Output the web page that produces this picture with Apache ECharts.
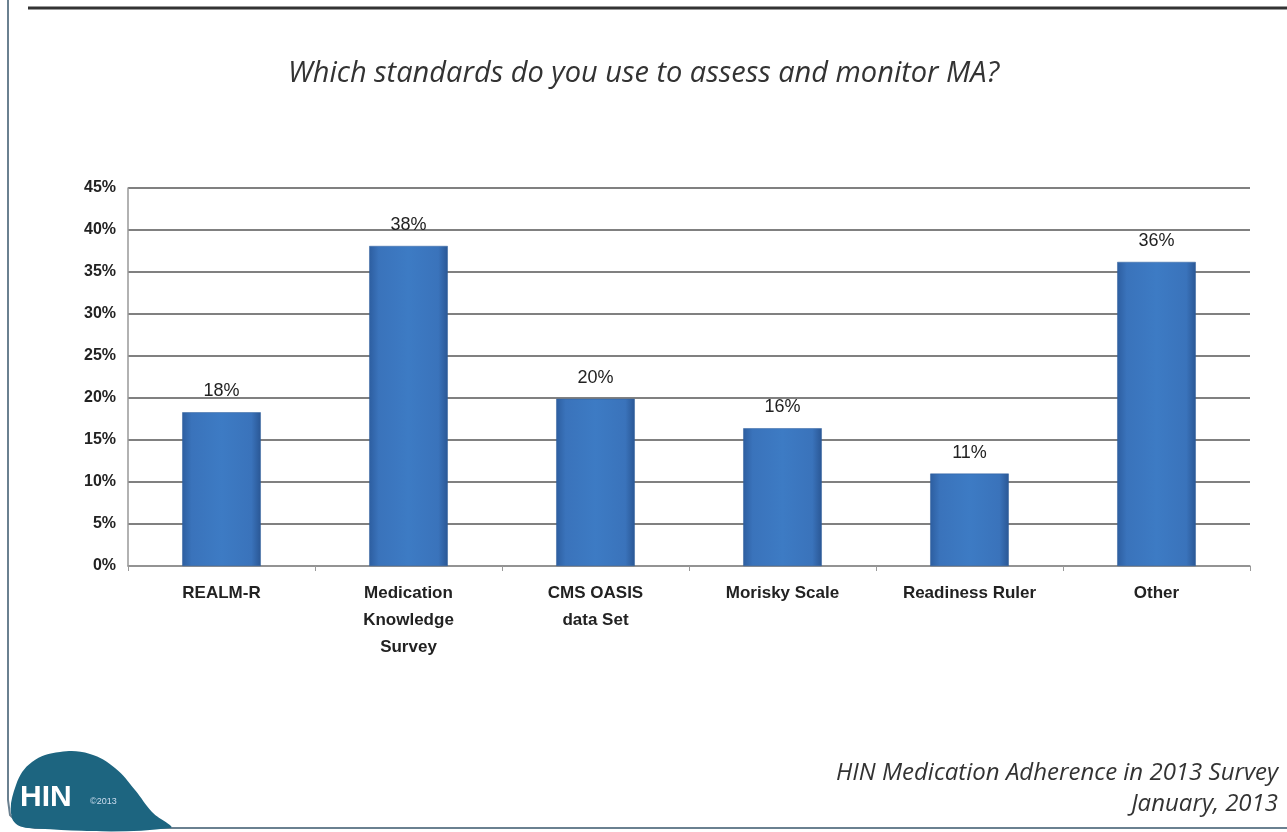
<!DOCTYPE html>
<html><head><meta charset="utf-8">
<script src="https://cdn.jsdelivr.net/npm/echarts@6/dist/echarts.min.js"></script>
<style>html,body{margin:0;padding:0;background:#fff}#c{width:1287px;height:832px}</style>
</head><body><div id="c"></div>
<script>
const categories = ['REALM-R', 'Medication\nKnowledge\nSurvey', 'CMS OASIS\ndata Set', 'Morisky Scale', 'Readiness Ruler', 'Other'];
const values = [18.3, 38.1, 19.9, 16.4, 11.0, 36.2];
const yTicks = [0, 5, 10, 15, 20, 25, 30, 35, 40, 45];
const titleText = 'Which standards do you use to assess and monitor MA?';
const footer = ['HIN Medication Adherence in 2013 Survey', 'January, 2013'];

const chart = echarts.init(document.getElementById('c'));
chart.setOption({
  animation: false,
  title: {
    text: titleText, left: 'center', top: 54,
    textStyle: {fontFamily: 'Open Sans', fontStyle: 'italic', fontWeight: 'normal', fontSize: 29, color: '#333'}
  },
  grid: {left: 128, right: 37, top: 188, bottom: 266, containLabel: false},
  xAxis: {
    type: 'category', data: categories,
    axisLine: {lineStyle: {color: '#999', width: 1.5}},
    axisTick: {show: true, length: 5, lineStyle: {color: '#999'}},
    axisLabel: {fontFamily: 'Liberation Sans Narrow, Liberation Sans, Arial', fontWeight: 'bold', fontSize: 17, color: '#222', lineHeight: 27, margin: 14, interval: 0}
  },
  yAxis: {
    type: 'value', min: 0, max: 45, interval: 5,
    axisLine: {show: true, lineStyle: {color: '#999', width: 1.5}},
    axisTick: {show: false},
    splitLine: {lineStyle: {color: '#808080', width: 2}},
    axisLabel: {formatter: v => yTicks.includes(v) ? v + '%' : '', fontFamily: 'Liberation Sans, Arial', fontWeight: 'bold', fontSize: 16, color: '#222', margin: 12}
  },
  series: [{
    type: 'bar', data: values, barWidth: '42%',
    itemStyle: {
      color: {type: 'linear', x: 0, y: 0, x2: 1, y2: 0, colorStops: [
        {offset: 0, color: '#2d5ea0'}, {offset: 0.12, color: '#3a73bb'},
        {offset: 0.5, color: '#3d7bc4'}, {offset: 0.88, color: '#3a73bb'}, {offset: 1, color: '#2a5795'}
      ]},
      borderColor: '#2e5e9c', borderWidth: 0.5
    },
    label: {show: true, position: 'top', distance: 12, formatter: p => Math.round(p.value) + '%', fontFamily: 'Liberation Sans, Arial', fontSize: 18, color: '#222'}
  }],
  graphic: [
    {type: 'line', shape: {x1: 28, y1: 8, x2: 1287, y2: 8}, style: {stroke: '#333', lineWidth: 3}},
    {type: 'polyline', shape: {points: [[8, 0], [8, 800], [10, 815], [20, 825], [35, 828], [1287, 828]]}, style: {stroke: '#6a8090', lineWidth: 2, fill: null}},
    {type: 'polygon', shape: {smooth: 0.4, points: [[12, 818], [16, 785], [32, 762], [60, 752], [90, 754], [115, 768], [135, 790], [152, 812], [170, 828], [28, 828]]}, style: {fill: '#1d6580'}},
    {type: 'text', left: 20, top: 783, style: {text: 'HIN', font: 'bold 30px Liberation Sans, Arial', fill: '#fff'}},
    {type: 'text', left: 90, top: 797, style: {text: '©2013', font: '9px Liberation Sans, Arial', fill: '#cde'}},
    {type: 'text', right: 9, top: 761, style: {text: footer[0], font: 'italic 24px Open Sans', fill: '#333', align: 'right'}},
    {type: 'text', right: 9, top: 792, style: {text: footer[1], font: 'italic 24px Open Sans', fill: '#333', align: 'right'}}
  ]
});
</script></body></html>
